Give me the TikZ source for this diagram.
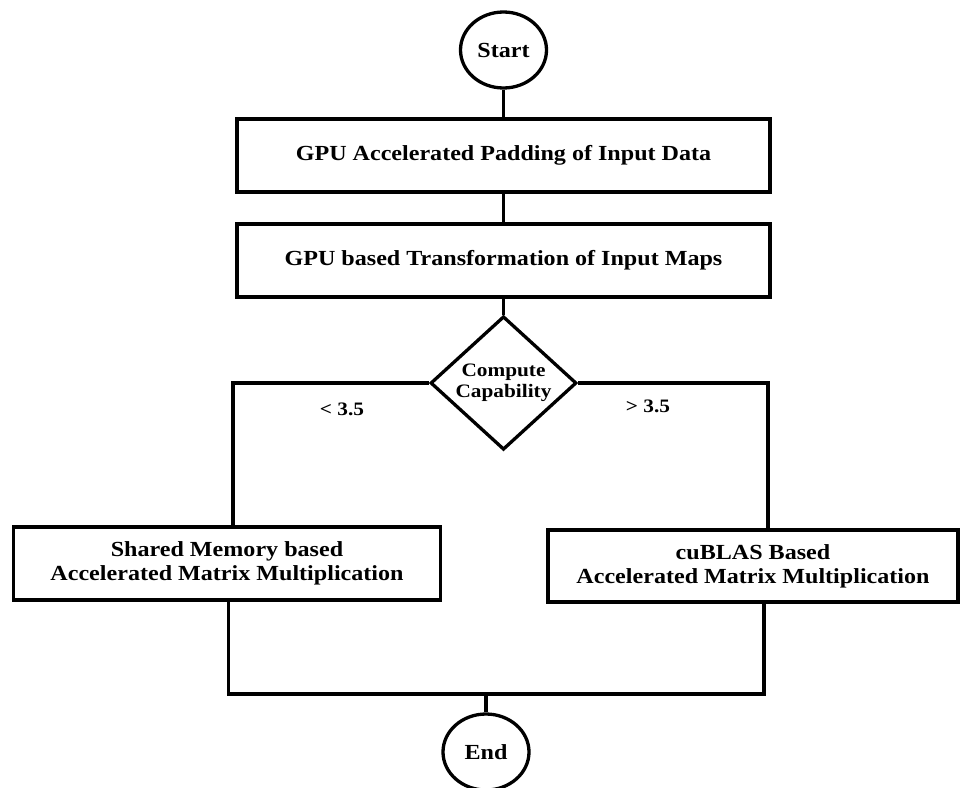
\documentclass[tikz,border=0pt]{standalone}
\usepackage{fontspec}
\setmainfont[FakeStretch=1.12]{Liberation Serif}
\usetikzlibrary{shapes.geometric}
\begin{document}
\begin{tikzpicture}[x=1pt,y=-1pt,
  every node/.style={font=\bfseries\fontsize{21.5}{24}\selectfont},
  term/.style={draw,ellipse,line width=3.3pt,minimum width=86pt,minimum height=76pt,inner sep=0pt},
  procbox/.style={draw,rectangle,line width=3.3pt,align=center,inner sep=0pt},
  decision/.style={draw,diamond,line width=3.3pt,minimum width=146pt,minimum height=130pt,inner sep=0pt,align=center,font=\bfseries\fontsize{19}{21}\selectfont},
  lbl/.style={font=\bfseries\fontsize{19}{21}\selectfont},
  conn/.style={line width=3.3pt}]
\useasboundingbox (0,0) rectangle (963,787);
\node[term] (s) at (503.5,50) {Start};
\node[procbox,minimum width=533pt,minimum height=73pt] (b1) at (503.5,155.5) {GPU Accelerated Padding of Input Data};
\node[procbox,minimum width=533pt,minimum height=73pt] (b2) at (503.5,260.5) {GPU based Transformation of Input Maps};
\node[decision] (d) at (503.5,383) {Compute\\Capability};
\node[procbox,minimum width=427pt,minimum height=73pt] (lb) at (227,563.5) {Shared Memory based\\Accelerated Matrix Multiplication};
\node[procbox,minimum width=410pt,minimum height=72pt] (rb) at (753,566) {cuBLAS Based\\Accelerated Matrix Multiplication};
\node[term] (e) at (486,752) {End};
\node[lbl] (ll) at (342,409) {< 3.5};
\node[lbl] (rl) at (648,406) {> 3.5};
\coordinate (cl) at (233,527);
\coordinate (cr) at (768,530);
\coordinate (ol) at (228.5,600);
\coordinate (or) at (764,602);
\coordinate (j) at (486,694);
\draw[conn] (s.south) -- (b1.north);
\draw[conn] (b1.south) -- (b2.north);
\draw[conn] (b2.south) -- (d.north);
\draw[conn] (d.west) -| (cl);
\draw[conn] (d.east) -| (cr);
\draw[conn] (ol) |- (j) -| (or);
\draw[conn] (j) -- (e.north);
\end{tikzpicture}
\end{document}
